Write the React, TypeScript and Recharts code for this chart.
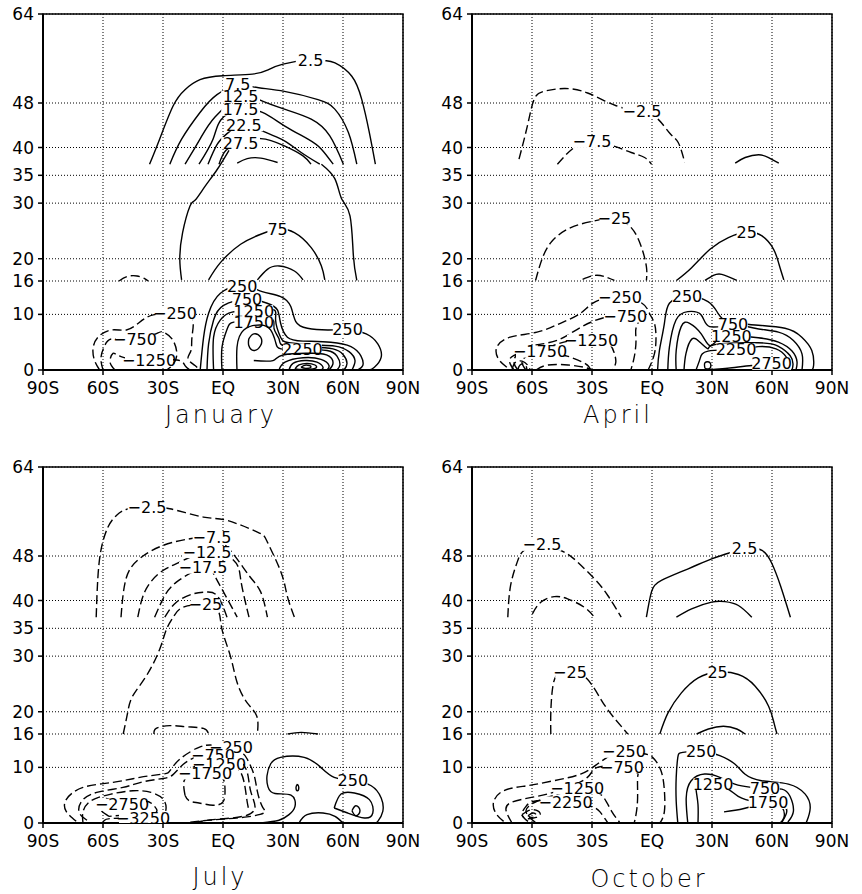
import React from 'react';
import { ComposedChart, Scatter, XAxis, YAxis, CartesianGrid, ReferenceArea } from 'recharts';

// each contour: v = level, p = [lat, height, isLabel?]
type Pt = number[];
interface Contour { v: number; p: Pt[] }

const latTicks = [-90, -60, -30, 0, 30, 60, 90];
const latLabels = ['90S', '60S', '30S', 'EQ', '30N', '60N', '90N'];
const heightTicks = [0, 10, 16, 20, 30, 35, 40, 48, 64];
const months = ['January', 'April', 'July', 'October'];

const janLines: Contour[] = [
  { v: 2.5, p: [[-36.7, 37], [-31.7, 41.5], [-24.9, 47.5], [-19, 50.4], [-11.5, 52.2], [0, 52.9], [14.7, 53.2], [22.2, 53.9], [30, 55], [43.8, 55.7, 1], [51, 55.6], [56, 55.2], [64.4, 52.8], [69.4, 48.6], [73, 43], [76.2, 37]] },
  { v: 7.5, p: [[-26.6, 37], [-20.7, 41.5], [-11.5, 46.3], [-3, 49.5], [7.4, 51.3, 1], [15, 50.9], [30.7, 50.1], [47.5, 48.6], [55.9, 46.9], [62.7, 42.7], [66.9, 37]] },
  { v: 12.5, p: [[-19, 37], [-11.5, 41.5], [-4, 45.5], [8.8, 49.1, 1], [18, 48.6], [30.7, 46.9], [44.1, 45.1], [53.4, 42.1], [60.2, 37]] },
  { v: 17.5, p: [[-12, 37], [-5, 41.5], [-1, 45], [8.8, 46.8, 1], [19.7, 46.3], [30.7, 43.9], [42.5, 41.5], [49.2, 39.7], [55.1, 37]] },
  { v: 22.5, p: [[-7.5, 37], [-3, 40.5], [2, 42.5], [10.4, 44, 1], [21.4, 42.7], [30.7, 41.2], [39.1, 39.1], [48.4, 37]] },
  { v: 27.5, p: [[-2, 37], [1.5, 39.5], [8.8, 40.8, 1], [18.9, 41.6], [30.7, 40.3], [40, 38.5], [44, 37]] },
  { v: 32.5, p: [[7.1, 37.2], [12.1, 38], [18.9, 38.1], [27.3, 37.3]] },
  { v: 25, p: [[3, 39.5], [-3, 36], [-9, 33], [-14, 30.5], [-16.5, 29.5], [-20.2, 24.7], [-21.6, 19.9], [-20.7, 16.2]] },
  { v: 25, p: [[49.2, 37], [55.9, 34.4], [59.3, 30.8], [63.5, 27.7], [65.2, 20.5], [66.9, 16.1]] },
  { v: 75, p: [[-7.2, 16.2], [-1.3, 19.3], [8.8, 22.6], [18.9, 24.4], [27.3, 25.3, 1], [35.7, 24.7], [44.1, 22], [49.2, 18.7], [50.9, 16.2]] },
  { v: 100, p: [[17.2, 16.2], [22.2, 18.1], [28.1, 18.7], [35.7, 17.8], [40, 16.2]] },
  { v: -25, p: [[-52, 16], [-48, 16.8], [-43, 16.9], [-39, 16.4], [-37.5, 16]] },
  { v: 250, p: [[-11.4, 0], [-9.7, 5.9], [-7.2, 10.2], [-1.3, 13.8], [9.6, 15.1, 1], [19.6, 14.1], [28.8, 13.2], [33.9, 11.4], [36.4, 8.7], [42.2, 7.5], [52.3, 7.2], [62.3, 7.2, 1], [71.6, 6.5], [77.4, 4.7], [79.1, 2.3], [75.7, 0.5], [73.2, 0]] },
  { v: 750, p: [[-8, 0], [-7.2, 4.7], [-4.7, 9], [0.3, 11.6], [12, 12.7, 1], [22.1, 12], [27.2, 10.8], [28.8, 8.4], [32.2, 5.9], [40, 5.2], [53.9, 5], [64, 4.2], [69, 2.5], [69.9, 0.8], [67.4, 0]] },
  { v: 1250, p: [[-4.7, 0], [-4.7, 5.9], [-1.3, 9], [4.5, 10.4], [15.4, 10.6, 1], [25.5, 10.8], [26.3, 9], [28.8, 5.9], [33, 4.9], [45, 4.5], [56, 4.3], [63, 3.3], [66, 1.7], [64.5, 0]] },
  { v: 1750, p: [[-0.5, 0], [-0.5, 4.1], [2, 7.3], [5.4, 8.6], [15.4, 8.6, 1], [24.6, 9.1], [25.5, 7.5], [28, 5.6], [31, 4.3], [45, 4.1], [55, 3.8], [60, 2.8], [62, 1.2], [60.5, 0]] },
  { v: 2250, p: [[7, 0], [7, 4.1], [10.4, 7.2], [18.8, 8.1], [23.8, 7.2], [26.3, 5], [29, 3.8], [39.7, 3.7, 1], [52, 3.5], [57, 2.5], [58.5, 1], [57, 0]] },
  { v: 2750, p: [[12.9, 5.6], [15.4, 6.5], [18.8, 5.9], [18.8, 4.4], [15.4, 3.5], [12.9, 4.4], [12.9, 5.6]] },
  { v: 2750, p: [[15.4, 1.7], [25, 1.7], [30, 2.7], [45, 3], [53, 2.5], [55, 1.2], [53, 0]] },
  { v: 3250, p: [[28, 0], [31, 1.4], [40, 2.2], [49, 1.9], [53, 0.8], [52, 0]] },
  { v: 3750, p: [[33, 0], [35, 1.2], [41, 1.7], [47, 1.4], [50, 0.5], [49, 0]] },
  { v: 4250, p: [[36, 0.2], [38, 0.9], [42, 1.2], [46, 0.9], [46, 0.3], [40, 0.1], [36, 0.2]] },
  { v: 4750, p: [[39, 0.5], [41.5, 0.9], [44, 0.6], [41.5, 0.3], [39, 0.5]] },
  { v: -250, p: [[-61.7, 0], [-64.2, 1.7], [-65, 3.8], [-62.5, 5.9], [-55.8, 7.2], [-48.3, 7.2], [-42, 8.5], [-34.9, 9.9], [-24, 10.1, 1], [-15.5, 9.3], [-15.5, 6], [-16, 3.5], [-17.5, 2], [-14, 0.8], [-12, 0]] },
  { v: -750, p: [[-60, 0], [-61, 2.3], [-59, 4.5], [-55, 5.6], [-44, 5.4, 1], [-33, 6.6], [-29.8, 6.8], [-25.5, 5.6], [-23.1, 3], [-24.8, 1.1], [-28.2, 0]] },
  { v: -1250, p: [[-54, 0], [-56.5, 1.5], [-55, 3], [-51, 2.4], [-37, 1.7, 1], [-23, 1.8], [-19, 0.8], [-16.4, 0]] },
];

const aprLines: Contour[] = [
  { v: -2.5, p: [[-66.5, 37.9], [-62.3, 43.9], [-59, 48.6], [-54, 50.1], [-43.9, 50.6], [-32.2, 49.8], [-17.9, 47.5], [-5, 46.4, 1], [3, 45.1], [9, 42.5], [13.1, 40.9], [16.4, 37.3]] },
  { v: -7.5, p: [[-47.3, 37], [-38.9, 40], [-30, 41, 1], [-19.6, 40.3], [-10.4, 39.1], [-3.7, 38.2], [-0.3, 37]] },
  { v: 2.5, p: [[41.6, 37.2], [46.6, 38.2], [53.3, 38.7], [58.3, 38.2], [63.4, 37.2]] },
  { v: -25, p: [[-58.2, 16.1], [-55.6, 19.3], [-50.6, 22.9], [-40.6, 25.6], [-28.8, 26.8], [-18.8, 27.2, 1], [-10.4, 25.6], [-5.4, 22.2], [-2.8, 18.6], [-2.8, 16.1]] },
  { v: -50, p: [[-34.7, 16.3], [-28.8, 17], [-23.8, 16.8], [-18.8, 16.1]] },
  { v: 25, p: [[12.2, 16.1], [19.8, 18.4], [29, 21.7], [38.2, 23.8], [47.4, 24.8, 1], [55, 24.1], [60.8, 21.7], [63.5, 19], [65.9, 16.2]] },
  { v: 50, p: [[26.5, 16.1], [30.7, 17], [34.9, 17.2], [42.4, 16.1]] },
  { v: -250, p: [[-72.6, 0.5], [-76.8, 2], [-77.6, 4.1], [-70.9, 5.9], [-57.5, 6.8], [-45.8, 8.4], [-35.7, 10.2], [-28.2, 12.3], [-16, 13, 1], [-5, 12], [-1.3, 10.2], [1.2, 8.4], [2, 5.9], [1.2, 2.9], [-1.3, 0.5], [-2, 0]] },
  { v: -750, p: [[-67, 0], [-69, 1.5], [-66, 3.5], [-58, 4.5], [-47, 5.4], [-36, 7.6], [-24, 9.4], [-13.4, 9.6, 1], [-7, 9], [-8, 7.5], [-8, 5.3], [-8.9, 2.3], [-10.6, 0]] },
  { v: -1250, p: [[-63, 0], [-65, 1.5], [-61, 2.8], [-52, 4], [-42, 5.2], [-30.5, 5.3, 1], [-22, 4.8], [-19, 3.2], [-18.1, 1.4], [-19.8, 0]] },
  { v: -1750, p: [[-69, 0], [-70.9, 1.1], [-69.2, 2.6], [-56, 3.3, 1], [-44, 2.6], [-40.7, 2.3], [-33.2, 1.1], [-30.7, 0]] },
  { v: -2250, p: [[-70, 0], [-68.5, 1.3], [-65, 1.6], [-62, 0.8], [-61, 0]] },
  { v: -2750, p: [[-67, 0], [-66, 0.9], [-63.5, 1], [-62.5, 0]] },
  { v: -2250, p: [[-58, 0], [-52, 0.9], [-42, 0.9], [-34, 0.5], [-30, 0]] },
  { v: 250, p: [[2.8, 0], [3.7, 3.5], [6.2, 8.4], [8.7, 12], [17.5, 13.2, 1], [28, 12.3], [33, 10.2], [38, 8.6], [45, 8.3], [51.5, 8.1], [66.5, 7.5], [74.9, 5.9], [79.9, 3.5], [80.8, 0.8], [80, 0]] },
  { v: 750, p: [[7.9, 0], [8.7, 4.1], [12, 9], [17.9, 10.5], [24.6, 9.9], [28.8, 7.8], [40.5, 8.1, 1], [51.5, 7.5], [63.2, 6.8], [70.7, 5.3], [75, 2.9], [75, 0]] },
  { v: 1250, p: [[12.1, 0], [12.1, 3.5], [14.6, 7.8], [18.8, 8.4], [24.6, 6.5], [28.8, 4.4], [33, 5.5], [39.7, 6.1, 1], [53.1, 5.8], [63.2, 5], [70, 3.4], [72.5, 1.5], [72, 0]] },
  { v: 1750, p: [[16, 0], [17, 3], [20, 5.6], [24, 5], [28, 3.8], [32, 4.6], [53, 4.9], [63, 4.3], [69, 2.6], [70.5, 1], [70, 0]] },
  { v: 2250, p: [[22, 0], [24, 2], [28, 3.4], [42, 3.7, 1], [53.1, 4.2], [62, 3.8], [67, 2.4], [68.5, 1], [68, 0]] },
  { v: 2750, p: [[28, 0], [40, 0.4], [50, 0.8], [59.8, 1.1, 1], [64, 2], [66, 1.2], [65.5, 0]] },
  { v: 3250, p: [[26.5, 0.3], [26.5, 1.3], [29, 1.3], [29, 0.3], [26.5, 0.3]] },
];

const julLines: Contour[] = [
  { v: -2.5, p: [[-63.4, 37], [-62.6, 43.9], [-60.9, 49.3], [-57.5, 53.2], [-53.3, 55.3], [-47.3, 56.5], [-38, 56.8, 1], [-26.6, 56.5], [-9.8, 55], [2, 54.4], [17.2, 52.3], [22.2, 50.5], [29, 45.1], [32, 41], [35.7, 37]] },
  { v: -7.5, p: [[-51, 37], [-48.5, 43.9], [-41.8, 47.5], [-30, 49.9], [-16.5, 51.1], [-5.5, 51.3, 1], [3.7, 49], [13, 44.5], [18.9, 41.5], [22.2, 37]] },
  { v: -12.5, p: [[-42.6, 37], [-38.4, 42.1], [-30, 45.4], [-21.6, 46.9], [-8, 48.7, 1], [5.4, 47.2], [8.8, 43.9], [11, 40], [13, 37]] },
  { v: -17.5, p: [[-34.2, 37], [-30, 40.3], [-23.3, 43.3], [-10, 45.9, 1], [-4.7, 44.8], [0.3, 41.5], [7.1, 37]] },
  { v: -22.5, p: [[-29.1, 37], [-23.3, 39.7], [-14.8, 41.2], [-8.9, 41.5], [-3, 40.9], [2, 37]] },
  { v: -25, p: [[-49.9, 16], [-47.7, 19.8], [-45.2, 22.8], [-38.4, 26.4], [-31.7, 31.2], [-28.3, 34.8], [-24.9, 37], [-19.9, 38.8], [-8.8, 39.2, 1], [-2.2, 38], [-0.5, 34.8], [3.7, 30], [7.1, 25.2], [12.1, 21.6], [16.9, 19.2], [17.2, 16]] },
  { v: -50, p: [[-34.5, 16], [-33.4, 17], [-26.6, 17.5], [-18.2, 17.3], [-9.8, 17], [-7.2, 16]] },
  { v: 50, p: [[32.3, 16], [39.1, 16.3], [47.5, 16]] },
  { v: 250, p: [[19, 0], [28, 0.5], [33, 1.5], [36, 3], [34, 5], [26, 5.3], [22.5, 6.5], [22, 8.5], [23.8, 10.6], [28.8, 11.8], [40.6, 11.8], [48.9, 10], [55.6, 8.2], [64.9, 7.6, 1], [74.1, 6.7], [79.1, 4.5], [79.9, 2.1], [77.4, 0.3], [76, 0]] },
  { v: 750, p: [[37.2, 7], [37.9, 6.4], [37.2, 5.8], [36.5, 6.4], [37.2, 7]] },
  { v: 750, p: [[55.6, 2.7], [59, 5.2], [65.7, 5.4], [73.2, 4.2], [74.9, 1.8], [70.7, 0.9], [62.3, 1.8], [55.6, 2.7]] },
  { v: 1250, p: [[64.5, 2.2], [66.5, 3.1], [68.5, 2.2], [66.5, 1.3], [64.5, 2.2]] },
  { v: 750, p: [[38, 0], [42, 1.5], [50, 1.8], [56, 1.2], [60, 0]] },
  { v: -250, p: [[-73.4, 0.3], [-78.4, 2.1], [-78.4, 4.2], [-70, 6.4], [-55, 7.3], [-41.6, 8.2], [-30, 8.8], [-26.5, 9.4], [-21.5, 11.5], [-12, 13.6], [-5, 14], [4, 13.6, 1], [10, 12.5], [12.1, 11.5], [15.4, 8.8], [17.1, 5.8], [19.6, 3], [20.5, 1.8], [12, 1.1], [0, 0.7], [-10, 0.4], [-20, 0]] },
  { v: -750, p: [[-68, 0.5], [-72, 2], [-70, 4.2], [-62, 5.6], [-50, 6.4], [-40, 7.4], [-30, 8], [-25, 8.7], [-20, 10.5], [-13, 11.9], [-5, 12.1, 1], [1, 11.8], [9, 10.9], [12.5, 8.5], [14, 5.5], [16, 2.8], [10, 1.2], [-5, 0.6], [-15, 0]] },
  { v: -1250, p: [[-20, 8.5], [-13, 10.3], [-2, 10.6, 1], [5, 10.2], [9, 9], [11, 6.5], [12, 4], [13, 2.2]] },
  { v: -1750, p: [[-19, 5], [-19.5, 7.5], [-16, 8.6], [-9, 8.9, 1], [-1, 8.5], [1, 6], [0, 3.8], [-5, 3.2], [-12, 3.6], [-17, 4], [-19, 5]] },
  { v: -2250, p: [[-70, 0], [-70, 2], [-66, 4], [-56, 5.2], [-45, 5.8], [-36, 5.5], [-30, 4.3], [-28.5, 2.5], [-30, 1], [-31, 0]] },
  { v: -2750, p: [[-57, 1.2], [-61.5, 2.5], [-61, 4], [-57, 4.3], [-50.5, 3.3, 1], [-40, 3.9], [-35, 3.3], [-33, 2.2], [-36, 1.6], [-45, 1.5], [-57, 1.2]] },
  { v: -3250, p: [[-60, 0], [-56, 0.8], [-40, 0.8, 1], [-30, 0.9], [-28, 0.3], [-27, 0]] },
];

const octLines: Contour[] = [
  { v: -2.5, p: [[-72.1, 37], [-70.7, 42.7], [-67.4, 46.9], [-64, 49], [-55, 50, 1], [-43.9, 48.7], [-37.2, 46.9], [-28.8, 43.9], [-22.1, 40.9], [-15.4, 37]] },
  { v: -7.5, p: [[-59.8, 37.6], [-55.6, 39.7], [-48.9, 40.7], [-42.2, 40.3], [-33.9, 38.8], [-28.8, 37]] },
  { v: 2.5, p: [[-2.8, 37], [-0.3, 41.5], [4.7, 43.6], [18.1, 45.7], [29.8, 47.5], [38.2, 48.5], [46.3, 49.4, 1], [55, 49], [60, 46.6], [64.2, 42.7], [69.2, 37]] },
  { v: 7.5, p: [[12.2, 37], [19.8, 38.5], [29.8, 39.7], [36.5, 39.8], [43.2, 39.1], [49.9, 37]] },
  { v: -25, p: [[-50.6, 16], [-50.6, 19.8], [-49.8, 24], [-47.3, 26.7], [-41, 27.1, 1], [-33, 26.1], [-25.5, 22.2], [-19.6, 19.2], [-12.1, 16]] },
  { v: 25, p: [[3.9, 16], [8, 19.8], [14.7, 23.4], [23.1, 26.1], [32.8, 27.1, 1], [43.2, 26.7], [51.6, 24.6], [58.3, 21], [61, 18], [62.5, 16]] },
  { v: 50, p: [[22.3, 16], [28.2, 16.9], [35.7, 17.4], [42.4, 16.9], [46.6, 16]] },
  { v: -250, p: [[-74.2, 0.3], [-77.6, 1.5], [-79.3, 3.6], [-74.2, 5.8], [-62.5, 6.7], [-49.1, 7.6], [-35.7, 8.8], [-27.3, 10.6], [-20, 12.3], [-14, 12.8, 1], [-5, 12.5], [0.3, 11.8], [4.5, 9.4], [6.2, 5.8], [6.2, 2.1], [4.5, 0.3], [3.5, 0]] },
  { v: -750, p: [[-70, 0], [-72.6, 1.8], [-70.9, 3.6], [-57.5, 4.8], [-44.1, 6.1], [-32.3, 8.2], [-27.3, 10], [-15, 10, 1], [-7.5, 9], [-7.2, 8.2], [-7.2, 4.5], [-8, 1.5], [-8.9, 0]] },
  { v: -1250, p: [[-58, 0], [-63, 2.2], [-57, 4], [-47, 5.2], [-37.4, 6.2, 1], [-29, 5.8], [-24, 4.5], [-20, 2], [-17, 0.5], [-16, 0]] },
  { v: -2250, p: [[-62, 0.3], [-65, 1.5], [-63, 3], [-57.5, 4], [-43.2, 3.7, 1], [-30.7, 3], [-26, 2], [-23, 0.5], [-22, 0]] },
  { v: -2750, p: [[-65, 1.5], [-60, 2.4], [-56, 1.8], [-58, 1], [-63, 0.8], [-65, 1.5]] },
  { v: -3250, p: [[-62, 1.3], [-59.5, 1.8], [-58, 1.4], [-60, 1], [-62, 1.3]] },
  { v: 250, p: [[12.9, 0], [12.1, 3.9], [12.1, 8.2], [12.9, 11.8], [15.4, 12.7], [24.6, 12.9, 1], [33.9, 12.1], [41.4, 10.6], [46.4, 8.8], [54.8, 7.6], [68.2, 7], [76.6, 5.2], [79.1, 2.7], [77.4, 0.3], [77, 0]] },
  { v: 750, p: [[17.9, 0], [17.1, 4.5], [19.6, 7.6], [26.3, 8.8], [33.9, 8.2], [41.4, 7], [49.7, 6.4], [56.5, 6.2, 1], [64.9, 6.1], [69, 4.8], [70.7, 2.1], [68.2, 0.3], [68, 0]] },
  { v: 1250, p: [[23, 0], [23, 3.3], [22.1, 5.8], [23.5, 7], [30.5, 7, 1], [38, 6.1], [43.1, 4.8], [51.5, 3.9], [63.2, 3.6], [67.4, 2.1], [65.2, 0.3], [65, 0]] },
  { v: 1750, p: [[36, 2], [46, 2.6], [58, 3.6, 1], [65, 2.8], [66, 1], [64, 0]] },
];

const panels = [
  { lines: janLines, left: 0, top: 0, title: months[0], tx: 221, ty: 423 },
  { lines: aprLines, left: 429, top: 0, title: months[1], tx: 618, ty: 423 },
  { lines: julLines, left: 0, top: 453, title: months[2], tx: 220, ty: 885 },
  { lines: octLines, left: 429, top: 453, title: months[3], tx: 649, ty: 887 },
];

const fmt = (v: number) => (v < 0 ? '\u2212' + Math.abs(v) : String(v));

const LabelShape = (props: any) => {
  const { cx, cy, payload } = props;
  if (!payload || !payload.lab) return <g />;
  const t: string = payload.t;
  const w = t.length * 9.2 + 2;
  return (
    <g>
      <rect x={cx - w / 2} y={cy - 6} width={w} height={12} fill="#fff" />
      <text x={cx} y={cy} textAnchor="middle" dominantBaseline="central" fontSize={16} fontFamily="DejaVu Sans" fill="#000">
        {t}
      </text>
    </g>
  );
};

const Panel = ({ lines, left, top }: { lines: Contour[]; left: number; top: number }) => (
  <div style={{ position: 'absolute', left, top }}>
    <ComposedChart width={430} height={440} margin={{ top: 14, right: 27, bottom: 40, left: 0 }}>
      <CartesianGrid stroke="#000" strokeDasharray="1 2" strokeWidth={1} />
      <XAxis
        type="number"
        dataKey="x"
        domain={[-90, 90]}
        ticks={latTicks}
        interval={0}
        allowDataOverflow
        tickFormatter={(v: number) => latLabels[latTicks.indexOf(v)]}
        tickSize={5}
        tickMargin={7}
        height={30}
        axisLine={{ stroke: '#000', strokeWidth: 2 }}
        tickLine={{ stroke: '#000', strokeWidth: 1.5 }}
        tick={{ fill: '#000', fontSize: 17, fontFamily: 'DejaVu Sans' }}
      />
      <YAxis
        type="number"
        dataKey="y"
        domain={[0, 64]}
        ticks={heightTicks}
        interval={0}
        allowDataOverflow
        width={43}
        tickSize={5}
        tickMargin={4}
        axisLine={{ stroke: '#000', strokeWidth: 2 }}
        tickLine={{ stroke: '#000', strokeWidth: 1.5 }}
        tick={{ fill: '#000', fontSize: 17, fontFamily: 'DejaVu Sans' }}
      />
      <ReferenceArea x1={-90} x2={90} y1={0} y2={64} fill="none" fillOpacity={0} stroke="#000" strokeWidth={1.5} />
      {lines.map((c, i) => (
        <Scatter
          key={i}
          data={c.p.map((q) => ({ x: q[0], y: q[1], lab: q[2] === 1, t: fmt(c.v) }))}
          line={{ stroke: '#000', strokeWidth: 1.4, strokeDasharray: c.v < 0 ? '9 4' : undefined }}
          lineType="joint"
          lineJointType="natural"
          shape={LabelShape}
          isAnimationActive={false}
        />
      ))}
    </ComposedChart>
  </div>
);

export default function App() {
  return (
    <div style={{ position: 'absolute', left: 0, top: 0, width: 862, height: 894, background: '#fff' }}>
      {panels.map((p, i) => (
        <Panel key={i} lines={p.lines} left={p.left} top={p.top} />
      ))}
      <svg width={862} height={894} style={{ position: 'absolute', left: 0, top: 0, pointerEvents: 'none' }}>
        {panels.map((p, i) => (
          <text key={i} x={p.tx} y={p.ty} textAnchor="middle" fontSize={24} fontWeight={300} letterSpacing={3} fontFamily="DejaVu Sans" fill="#000">
            {p.title}
          </text>
        ))}
      </svg>
    </div>
  );
}
